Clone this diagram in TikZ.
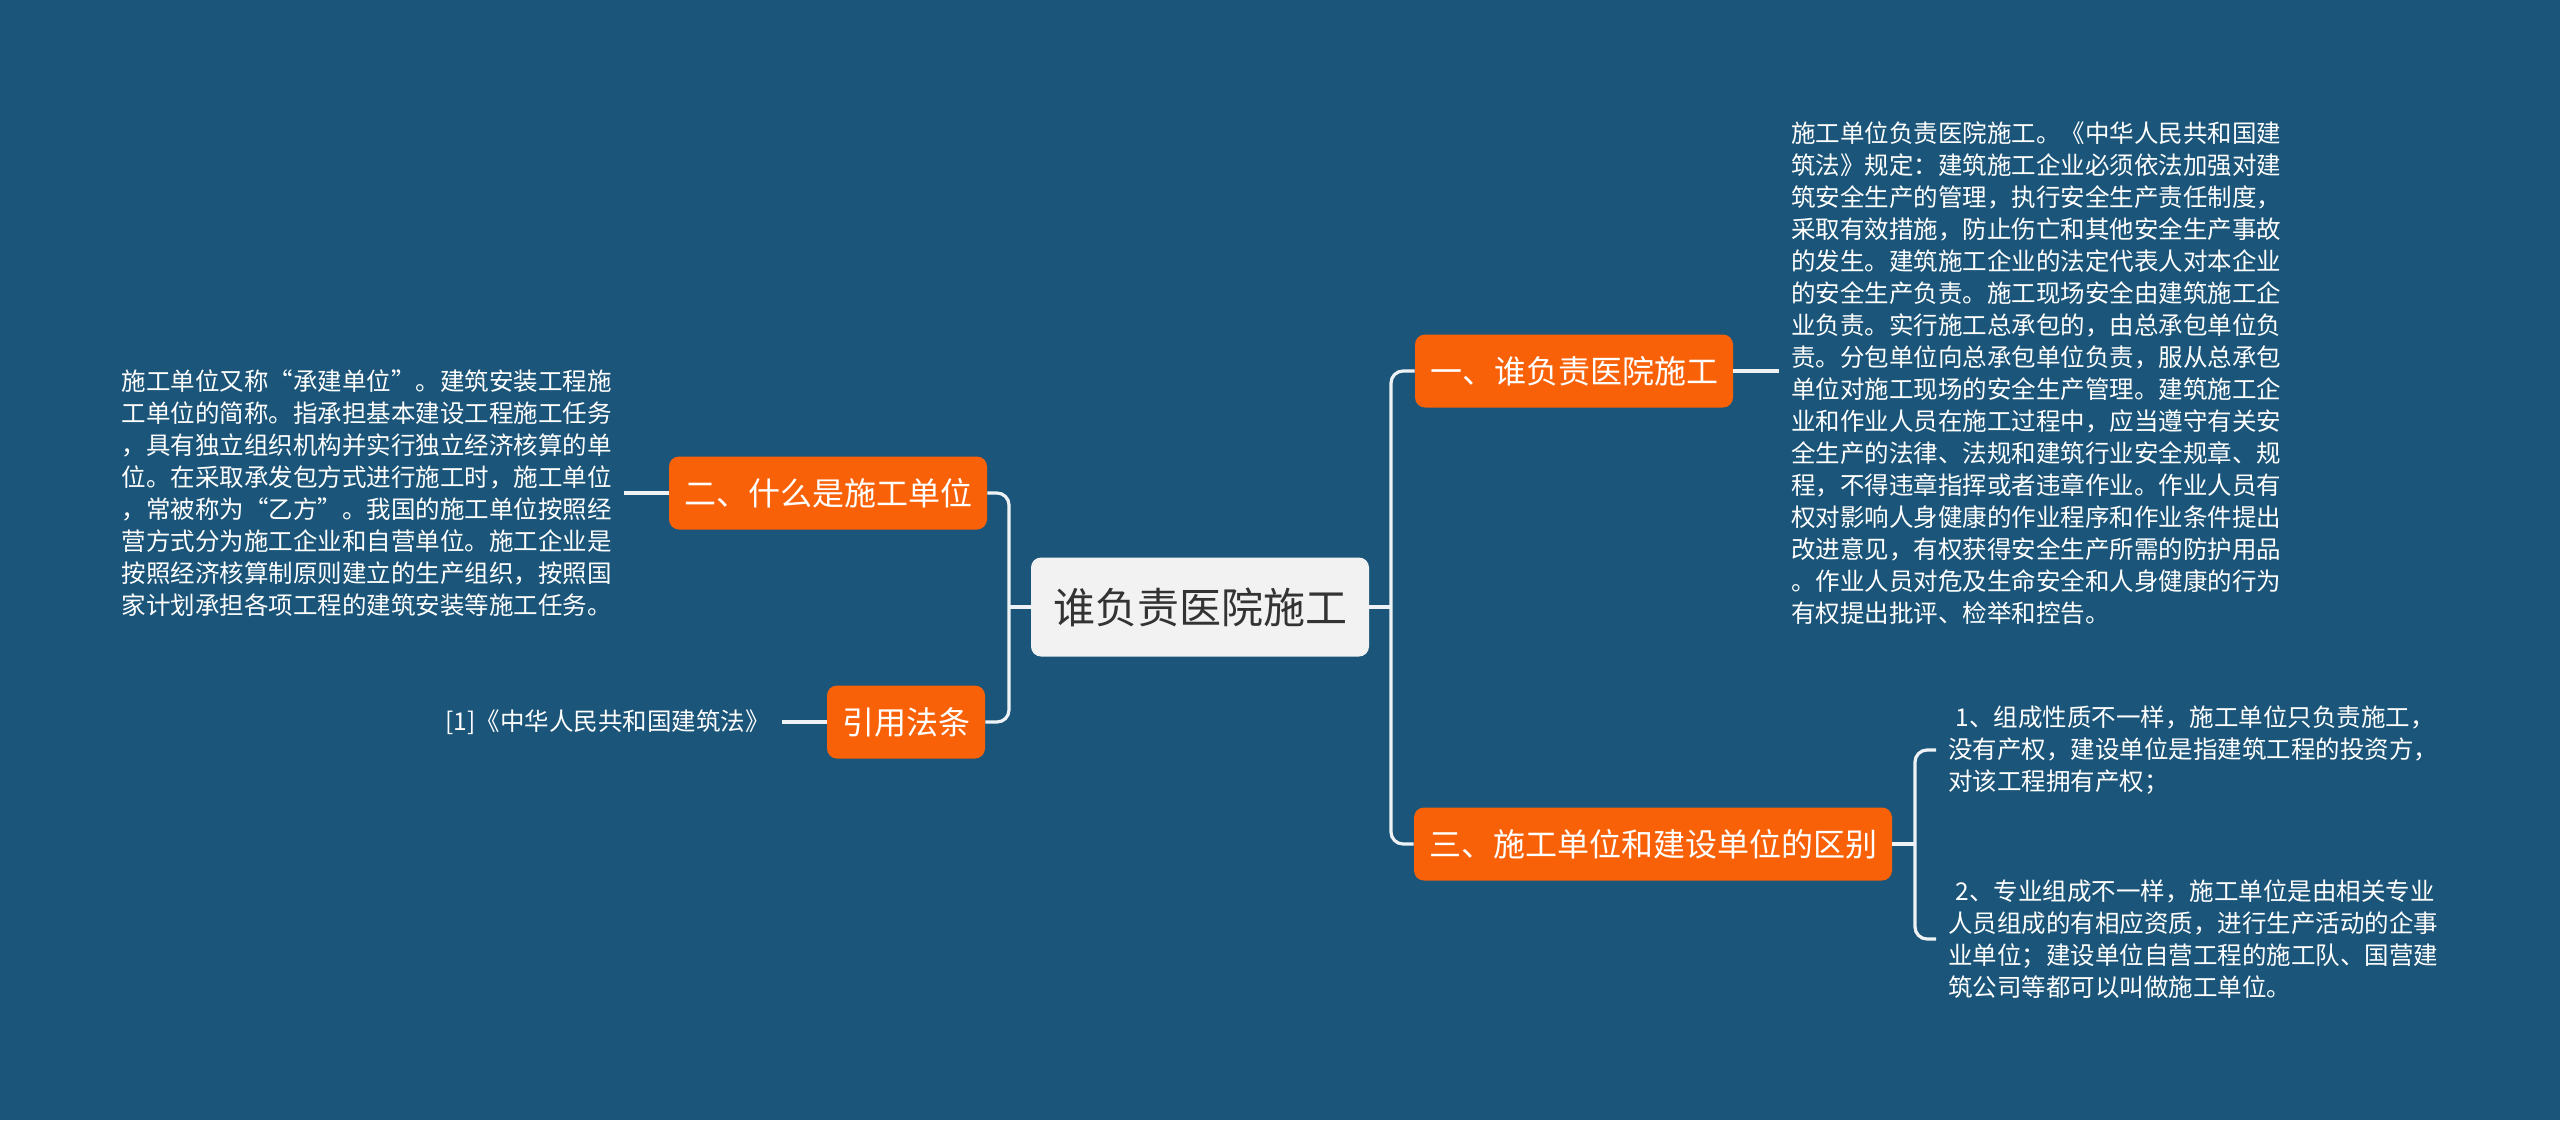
\documentclass[tikz,border=0pt]{standalone}
\usepackage{fontspec}
\setmainfont{Noto Sans CJK SC}
\usepackage{xcolor}
\usepackage{tikz}
\definecolor{bgblue}{HTML}{1B5579}
\definecolor{branchorange}{HTML}{F86108}
\definecolor{rootgrey}{HTML}{F2F2F2}
\definecolor{linewhite}{HTML}{EEF2F5}
\tikzset{
  root/.style={fill=rootgrey,text=black!80,rounded corners=5pt,inner xsep=11pt,
    minimum height=49.5pt,font=\fontsize{21}{25}\selectfont},
  branch/.style={fill=branchorange,text=white,rounded corners=5pt,inner xsep=7.5pt,
    minimum height=36.5pt,font=\fontsize{16}{19}\selectfont},
  leaf/.style={text=white,align=left,inner xsep=6pt,inner ysep=0pt,
    font=\fontsize{12.25}{16}\selectfont},
  link/.style={draw=linewhite,line width=1.6pt,rounded corners=6pt},
}

\begin{document}
\begin{tikzpicture}[x=0.5pt,y=-0.5pt]
\useasboundingbox (0,0) rectangle (2560,1120);
\fill[bgblue] (0,0) rectangle (2560,1120);

\node[root] (root) at (1200,607) {谁负责医院施工};

\node[branch] (one) at (1574,371) {一、谁负责医院施工};
\node[branch] (two) at (828,493) {二、什么是施工单位};
\node[branch] (cite) at (906,722) {引用法条};
\node[branch] (three) at (1653,844) {三、施工单位和建设单位的区别};

\node[leaf,anchor=west] (duty) at (1779,373) {施工单位负责医院施工。《中华人民共和国建\\
筑法》规定：建筑施工企业必须依法加强对建\\
筑安全生产的管理，执行安全生产责任制度，\\
采取有效措施，防止伤亡和其他安全生产事故\\
的发生。建筑施工企业的法定代表人对本企业\\
的安全生产负责。施工现场安全由建筑施工企\\
业负责。实行施工总承包的，由总承包单位负\\
责。分包单位向总承包单位负责，服从总承包\\
单位对施工现场的安全生产管理。建筑施工企\\
业和作业人员在施工过程中，应当遵守有关安\\
全生产的法律、法规和建筑行业安全规章、规\\
程，不得违章指挥或者违章作业。作业人员有\\
权对影响人身健康的作业程序和作业条件提出\\
改进意见，有权获得安全生产所需的防护用品\\
。作业人员对危及生命安全和人身健康的行为\\
有权提出批评、检举和控告。};

\node[leaf,anchor=east] (unit) at (624,493) {施工单位又称“承建单位”。建筑安装工程施\\
工单位的简称。指承担基本建设工程施工任务\\
，具有独立组织机构并实行独立经济核算的单\\
位。在采取承发包方式进行施工时，施工单位\\
，常被称为“乙方”。我国的施工单位按照经\\
营方式分为施工企业和自营单位。施工企业是\\
按照经济核算制原则建立的生产组织，按照国\\
家计划承担各项工程的建筑安装等施工任务。};

\node[leaf,anchor=east] (law) at (782,722) {[1]《中华人民共和国建筑法》};

\node[leaf,anchor=west] (diffa) at (1936,750) {\hspace*{0.3em}1、组成性质不一样，施工单位只负责施工，\\
没有产权，建设单位是指建筑工程的投资方，\\
对该工程拥有产权；};
\node[leaf,anchor=west] (diffb) at (1936,939) {\hspace*{0.3em}2、专业组成不一样，施工单位是由相关专业\\
人员组成的有相应资质，进行生产活动的企事\\
业单位；建设单位自营工程的施工队、国营建\\
筑公司等都可以叫做施工单位。};

% forks
\coordinate (lfork) at (1009,607);
\coordinate (rfork) at (1391,607);
\coordinate (bfork) at (1915,844);

\draw[link] (root.west) -- (lfork);
\draw[link] (lfork) |- (two.east);
\draw[link] (lfork) |- (cite.east);
\draw[link] (root.east) -- (rfork);
\draw[link] (rfork) |- (one.west);
\draw[link] (rfork) |- (three.west);

\draw[link] (one.east) -- (one.east -| duty.west);
\draw[link] (two.west) -- (two.west -| unit.east);
\draw[link] (cite.west) -- (cite.west -| law.east);
\draw[link] (three.east) -- (bfork);
\draw[link] (bfork) |- (diffa.west);
\draw[link] (bfork) |- (diffb.west);
\end{tikzpicture}
\end{document}
